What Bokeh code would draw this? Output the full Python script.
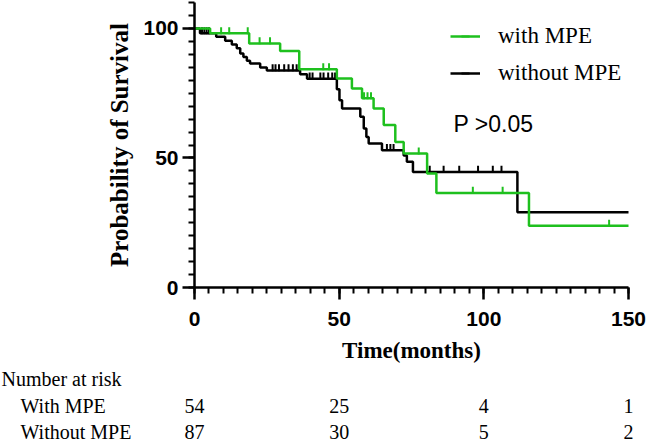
import numpy as np
from bokeh.plotting import figure
from bokeh.models import Range1d, FixedTicker, Legend, LegendItem, Label
from bokeh.embed import file_html
from bokeh.resources import INLINE
from bokeh.core.properties import value

# ---------------- data ----------------
with_t = [0, 5.4, 18.9, 29.6, 36.2, 49.2, 54.4, 57.9, 61.9, 65.4, 69.4, 72.3, 80.4, 83.6, 115.6, 150]
with_s = [100, 98.1, 94.2, 91.3, 84.2, 80.7, 76.8, 73.0, 69.1, 62.7, 56.2, 51.7, 44.0, 36.5, 23.8, 23.8]
with_cens = [9.2, 12.0, 18.4, 22.5, 26.1, 44.5, 46.5, 58.6, 59.8, 61.0, 77.5, 96.2, 106.5, 143.3]

without_t = [0, 1.9, 7.5, 10.6, 12.9, 14.6, 15.8, 16.9, 18.1, 19.2, 22.7, 25.0, 36.5, 38.9,
             49.2, 50.1, 51.0, 57.3, 58.5, 59.4, 60.2, 64.8, 72.3, 73.4, 75.5, 111.6, 150]
without_s = [100, 98.1, 96.8, 95.2, 93.8, 92.3, 90.3, 89.0, 87.5, 86.5, 84.9, 83.8, 82.3, 80.6,
             76.5, 72.3, 69.1, 65.9, 61.4, 58.1, 55.6, 53.0, 50.9, 48.5, 44.6, 29.0, 29.0]
without_cens = [2.6, 3.4, 4.2, 5.0, 27.0, 28.0, 29.2, 31.0, 32.5, 34.0, 35.3, 39.8, 40.8, 43.5,
                44.6, 46.2, 47.6, 48.6, 66.5, 67.7, 68.8, 81.3, 86.1, 91.5, 98.0, 103.1, 106.1]

x_major = [0, 50, 100, 150]
y_major = [0, 50, 100]

risk_times = [0, 50, 100, 150]
risk_with = [54, 25, 4, 1]
risk_without = [87, 30, 5, 2]
group_names = ["With MPE", "Without MPE"]

GREEN = "#1EC01E"
BLACK = "#000000"

def step_val(ts, ss, t):
    ts = np.asarray(ts); ss = np.asarray(ss)
    idx = np.searchsorted(ts, np.asarray(t), side="right") - 1
    return ss[idx]

# ---------------- layout numbers ----------------
W, H = 646, 443
X0_PX = 194        # window x of time 0
X1_PX = 628        # window x of time 150
Y0_PX = 287        # window y of 0 %
Y1_PX = 2          # window y of 110 %
X_END, Y_END = 150.0, 110.0
xs = (X1_PX - X0_PX) / X_END
ys = (Y0_PX - Y1_PX) / Y_END

def px_x(px):
    return (px - X0_PX) / xs

def px_y(py):
    return (Y0_PX - py) / ys

# the frame covers the whole canvas; the axes are pinned at 0 and bounded
p = figure(width=W, height=H,
           x_range=Range1d(px_x(0), px_x(W)), y_range=Range1d(px_y(H), px_y(0)),
           output_backend="svg", toolbar_location=None,
           min_border_left=0, min_border_right=0, min_border_top=0, min_border_bottom=0)
p.outline_line_color = None
p.grid.visible = False
p.background_fill_color = "white"

p.xaxis.ticker = FixedTicker(ticks=x_major, minor_ticks=list(range(0, 151, 5)))
p.yaxis.ticker = FixedTicker(ticks=y_major, minor_ticks=list(range(0, 111, 5)))
p.xaxis.fixed_location = 0
p.yaxis.fixed_location = 0
p.xaxis.bounds = (0, X_END)
p.yaxis.bounds = (0, Y_END)
p.xaxis.axis_label = "Time(months)"
p.yaxis.axis_label = "Probability of Survival"

for ax in (p.xaxis[0], p.yaxis[0]):
    ax.axis_line_width = 2.5
    ax.axis_line_color = "black"
    ax.major_tick_line_width = 2.5
    ax.minor_tick_line_width = 2
    ax.major_tick_line_color = "black"
    ax.minor_tick_line_color = "black"
    ax.major_tick_out = 12
    ax.major_tick_in = 0
    ax.minor_tick_out = 6
    ax.minor_tick_in = 0
    ax.major_label_text_font = "Liberation Sans"
    ax.major_label_text_font_style = "bold"
    ax.major_label_text_font_size = "21px"
    ax.major_label_text_color = "black"
    ax.axis_label_text_font = "Liberation Serif"
    ax.axis_label_text_font_style = "bold"
    ax.axis_label_text_color = "black"

p.yaxis.major_label_standoff = 4
p.xaxis.major_label_standoff = 12
p.xaxis.axis_label_text_font_size = "23px"
p.yaxis.axis_label_text_font_size = "25px"
p.xaxis.axis_label_standoff = 9
p.yaxis.axis_label_standoff = 7

# curves
b_line = p.step(without_t, without_s, mode="after", line_color=BLACK, line_width=2.5)
b_cens = p.scatter(without_cens, step_val(without_t, without_s, without_cens) + 1.0,
                   marker="dash", angle=np.pi / 2, size=7, line_color=BLACK, line_width=2)
g_line = p.step(with_t, with_s, mode="after", line_color=GREEN, line_width=2.5)
g_cens = p.scatter(with_cens, step_val(with_t, with_s, with_cens) + 1.0,
                   marker="dash", angle=np.pi / 2, size=7, line_color=GREEN, line_width=2)

legend = Legend(items=[LegendItem(label="with MPE", renderers=[g_line, g_cens]),
                       LegendItem(label="without MPE", renderers=[b_line, b_cens])],
                location=(450, H - 86))
legend.label_text_font = "Liberation Serif"
legend.label_text_font_size = "23px"
legend.label_text_color = "black"
legend.glyph_width = 30
legend.glyph_height = 20
legend.label_standoff = 18
legend.spacing = 11
legend.padding = 0
legend.margin = 0
legend.border_line_color = None
legend.background_fill_alpha = 0
p.add_layout(legend)

p.add_layout(Label(x=px_x(453), y=px_y(123), text="P >0.05", text_font="Liberation Sans",
                   text_font_size="23px", text_baseline="middle", text_color="black"))

# ---------------- number at risk table ----------------
row_py = [378, 405, 431]
tab = dict(text_font=value("Liberation Serif"), text_font_size="20px",
           text_baseline="middle", text_color="black")

p.text(x=[px_x(1)], y=[px_y(row_py[0])], text=["Number at risk"], text_align="left", **tab)
p.text(x=[px_x(20)] * 2, y=[px_y(v) for v in row_py[1:]], text=group_names,
       text_align="left", **tab)
p.text(x=risk_times, y=[px_y(row_py[1])] * len(risk_times), text=[str(v) for v in risk_with],
       text_align="center", **tab)
p.text(x=risk_times, y=[px_y(row_py[2])] * len(risk_times), text=[str(v) for v in risk_without],
       text_align="center", **tab)

open("out.html", "w").write(file_html(p, INLINE))
